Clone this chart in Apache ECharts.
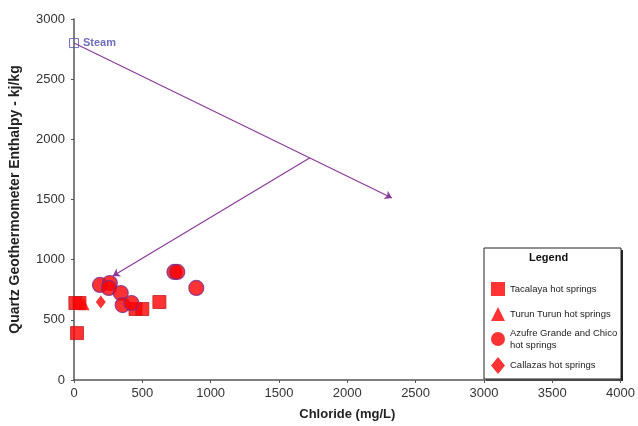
<!DOCTYPE html>
<html><head><meta charset="utf-8">
<script src="https://cdn.jsdelivr.net/npm/echarts@6/dist/echarts.min.js"></script>
<style>html,body{margin:0;padding:0;background:#fff}#c{width:638px;height:426px}</style>
</head><body><div id="c"></div>
<script>
const xTicks = [0,500,1000,1500,2000,2500,3000,3500,4000];
const yTicks = [0,500,1000,1500,2000,2500,3000];
const tacalaya = [[10,640],[40,640],[22,390],[450,590],[500,590],[625,648]];
const turun = [[70,630]];
const azufre = [[190,790],[262,806],[255,765],[342,723],[356,623],[420,640],[735,898],[756,898],[895,765]];
const callazas = [[196,648]];
const steam = [[0,2800]];
const arrow1 = [[0,2800],[2327,1513]];
const arrow2 = [[1724,1845],[284,864]];
const seriesNames = ['Tacalaya hot springs','Turun Turun hot springs','Azufre Grande and Chico\nhot springs','Callazas hot springs'];
const legendIcons = ['rect','triangle','circle','diamond'];
const legendTops = [277,302,322,352];

const chart = echarts.init(document.getElementById('c'));
const font = 'Liberation Sans, Arial, sans-serif';
const red = '#ff0000';
chart.setOption({
  animation:false,
  grid:{left:73,right:15,top:19,bottom:46},
  xAxis:{type:'value',min:0,max:4000,interval:500,
    name:'Chloride (mg/L)',nameLocation:'middle',nameGap:28,
    nameTextStyle:{fontFamily:font,fontSize:13,fontWeight:'bold',color:'#222'},
    axisLine:{lineStyle:{color:'#555',width:1.5}},
    axisTick:{show:true,length:3,lineStyle:{color:'#555'}},
    axisLabel:{fontFamily:font,fontSize:13,color:'#333',margin:7,formatter:v=>String(v)},
    splitLine:{show:false}},
  yAxis:{type:'value',min:0,max:3000,interval:500,
    name:'Quartz Geothermometer Enthalpy - kj/kg',nameLocation:'middle',nameGap:52,
    nameTextStyle:{fontFamily:font,fontSize:14,fontWeight:'bold',color:'#222'},
    axisLine:{show:true,lineStyle:{color:'#555',width:1.5}},
    axisTick:{show:true,length:3,lineStyle:{color:'#555'}},
    axisLabel:{fontFamily:font,fontSize:13,color:'#333',margin:9,formatter:v=>String(v)},
    splitLine:{show:false}},
  legend: seriesNames.map((n,i)=>({
    left:486,top:legendTops[i],orient:'vertical',itemWidth:14,itemHeight:i===3?17:14,itemGap:4,
    data:[{name:n,icon:legendIcons[i],itemStyle:{color:red,borderWidth:0}}],
    textStyle:{fontFamily:font,fontSize:9.5,color:'#222',lineHeight:12}
  })),
  graphic:[
    {type:'rect',z:-1,shape:{x:486,y:250,width:137,height:131},style:{fill:'#222'}},
    {type:'rect',z:-1,shape:{x:484,y:248,width:137,height:131},style:{fill:'#fff',stroke:'#222',lineWidth:1}},
    {type:'text',left:529,top:252,style:{text:'Legend',font:'bold 11px '+font,fill:'#111'}}
  ],
  series:[
    {name:seriesNames[0],type:'scatter',symbol:'rect',symbolSize:13,data:tacalaya,
      itemStyle:{color:red,borderColor:'#c02020',borderWidth:1}},
    {name:seriesNames[1],type:'scatter',symbol:'triangle',symbolSize:12,data:turun,
      itemStyle:{color:red}},
    {name:seriesNames[2],type:'scatter',symbol:'circle',symbolSize:15,data:azufre,
      itemStyle:{color:red,borderColor:'#7a2a8a',borderWidth:1.2}},
    {name:seriesNames[3],type:'scatter',symbol:'diamond',symbolSize:[10,13],data:callazas,
      itemStyle:{color:red}},
    {name:'Steam',type:'scatter',symbol:'rect',symbolSize:9,data:steam,
      itemStyle:{color:'rgba(255,255,255,0)',borderColor:'#5050b0',borderWidth:1},
      label:{show:true,position:'right',distance:4,formatter:'Steam',fontFamily:font,fontSize:11,fontWeight:'bold',color:'#4848a8'}},
    {type:'lines',coordinateSystem:'cartesian2d',symbol:['none','arrow'],symbolSize:7,
      lineStyle:{color:'#8a3a9a',width:1.2,opacity:1},
      data:[{coords:arrow1},{coords:arrow2}]}
  ]
});
</script></body></html>
